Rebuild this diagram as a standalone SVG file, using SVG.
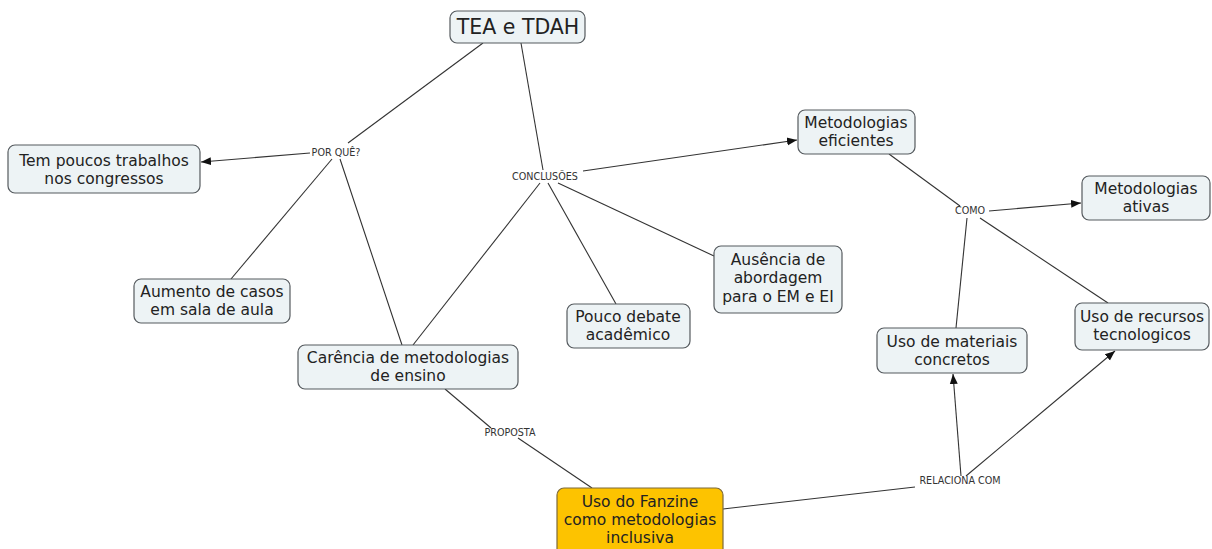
<svg xmlns="http://www.w3.org/2000/svg" width="1212" height="549" viewBox="0 0 1212 549">
<style>
.node rect{fill:#edf3f5;stroke:#555a5e;stroke-width:1.2}
.node text{font-family:"DejaVu Sans",Verdana,sans-serif;font-size:15.5px;fill:#222;text-anchor:middle}
#fanzine rect{fill:#fdc300;stroke:#7d6a3a}
.lbl{font-family:"DejaVu Sans",Verdana,sans-serif;font-size:9.6px;fill:#333;text-anchor:middle}
.links line{stroke:#333;stroke-width:1.1}
.arr{marker-end:url(#ah)}
</style>
<defs>
<marker id="ah" viewBox="0 0 10 10" refX="10" refY="5" markerWidth="10" markerHeight="10" markerUnits="userSpaceOnUse" orient="auto">
<path d="M0,1 L10,5 L0,9 z" fill="#111"/>
</marker>
</defs>
<rect width="1212" height="549" fill="#fff"/>
<g class="links">
<line x1="483" y1="43" x2="348" y2="143"/>
<line x1="310" y1="153" x2="201" y2="162" class="arr"/>
<line x1="332" y1="159" x2="231" y2="279"/>
<line x1="340" y1="159" x2="402" y2="345"/>
<line x1="521" y1="43" x2="543" y2="170"/>
<line x1="583" y1="171" x2="797" y2="140" class="arr"/>
<line x1="540" y1="183" x2="413" y2="345"/>
<line x1="548" y1="183" x2="616" y2="304"/>
<line x1="558" y1="183" x2="714" y2="256"/>
<line x1="889" y1="154" x2="960" y2="206"/>
<line x1="989" y1="211" x2="1081" y2="203" class="arr"/>
<line x1="967" y1="218" x2="956" y2="328"/>
<line x1="980" y1="218" x2="1108" y2="303"/>
<line x1="445" y1="389" x2="491" y2="428"/>
<line x1="518" y1="438" x2="592" y2="488"/>
<line x1="723" y1="509" x2="915" y2="487"/>
<line x1="961" y1="476" x2="953" y2="374" class="arr"/>
<line x1="966" y1="476" x2="1115" y2="351" class="arr"/>
</g>
<g class="labels">
<text class="lbl" x="336" y="156">POR QUÊ?</text>
<text class="lbl" x="545" y="180">CONCLUSÕES</text>
<text class="lbl" x="970" y="214">COMO</text>
<text class="lbl" x="510" y="436">PROPOSTA</text>
<text class="lbl" x="960" y="484">RELACIONA COM</text>
</g>
<g id="tea" class="node"><rect x="450" y="11" width="135" height="32" rx="7"/><text x="518" y="34" style="font-size:20.5px">TEA e TDAH</text></g>
<g id="tem" class="node"><rect x="8" y="145" width="192" height="48" rx="7"/><text x="104" y="166">Tem poucos trabalhos</text><text x="104" y="184">nos congressos</text></g>
<g id="aumento" class="node"><rect x="134" y="279" width="156" height="44" rx="7"/><text x="212" y="297">Aumento de casos</text><text x="212" y="315">em sala de aula</text></g>
<g id="carencia" class="node"><rect x="298" y="345" width="220" height="44" rx="7"/><text x="408" y="363">Carência de metodologias</text><text x="408" y="381">de ensino</text></g>
<g id="pouco" class="node"><rect x="567" y="304" width="123" height="44" rx="7"/><text x="628" y="322">Pouco debate</text><text x="628" y="340">acadêmico</text></g>
<g id="ausencia" class="node"><rect x="714" y="246" width="128" height="67" rx="7"/><text x="778" y="265">Ausência de</text><text x="778" y="283">abordagem</text><text x="778" y="302">para o EM e EI</text></g>
<g id="eficientes" class="node"><rect x="798" y="110" width="117" height="44" rx="7"/><text x="856" y="128">Metodologias</text><text x="856" y="146">eficientes</text></g>
<g id="ativas" class="node"><rect x="1082" y="176" width="128" height="44" rx="7"/><text x="1146" y="194">Metodologias</text><text x="1146" y="212">ativas</text></g>
<g id="materiais" class="node"><rect x="877" y="328" width="150" height="45" rx="7"/><text x="952" y="347">Uso de materiais</text><text x="952" y="365">concretos</text></g>
<g id="recursos" class="node"><rect x="1075" y="303" width="134" height="47" rx="7"/><text x="1142" y="322">Uso de recursos</text><text x="1142" y="340">tecnologicos</text></g>
<g id="fanzine" class="node"><rect x="557" y="488" width="166" height="72" rx="7"/><text x="640" y="507">Uso do Fanzine</text><text x="640" y="525">como metodologias</text><text x="640" y="543">inclusiva</text></g>
</svg>
